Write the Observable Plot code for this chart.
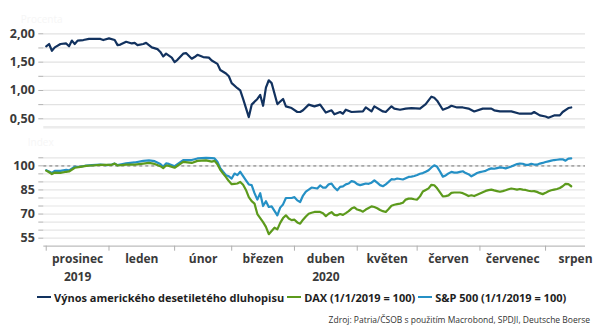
<!DOCTYPE html>
<html><head><meta charset="utf-8">
<script src="https://cdn.jsdelivr.net/npm/d3@7"></script>
<script src="https://cdn.jsdelivr.net/npm/@observablehq/plot@0.6"></script>
<style>
html,body{margin:0;padding:0;background:#fff;}
#wrap{position:relative;width:600px;height:335px;overflow:hidden;font-family:"Open Sans",sans-serif;}
#top{position:absolute;left:0;top:0;}
#bottom{position:absolute;left:0;top:130px;}
#wrap svg{display:block;font-family:"Open Sans",sans-serif;}
#legend{position:absolute;left:37px;top:289px;height:16px;display:flex;align-items:center;font-size:11px;font-weight:700;color:#1e1e1e;white-space:nowrap;}
#legend .it{display:flex;align-items:center;margin-right:3px;}
#legend .sw{display:inline-block;width:14px;height:2.5px;margin-right:3px;}
#source{position:absolute;right:10px;top:313.5px;font-size:8.5px;color:#333;white-space:nowrap;}
</style></head><body>
<div id="wrap"><div id="top"></div><div id="bottom"></div><div id="legend"></div><div id="source"></div></div>
<script>
// x = trading-day index (0 = 2 Dec 2019)
const months = ["prosinec","leden","únor","březen","duben","květen","červen","červenec","srpen"];
const monthStart = [0,22,45,65,87,109,130,152,175];
const monthMid = [11,33.5,55,76,98,119.5,141,163.5,185.5];
const years = ["2019","2020"];
const yearPos = [11,98];
const yTicksTop = [0.5,0.75,1.0,1.25,1.5,1.75,2.0];
const yLabelsTop = [0.5,1.0,1.5,2.0];
const yTicksBottom = [55,60,65,70,75,80,85,90,95,100,105];
const yLabelsBottom = [55,70,85,100];

const seriesNames = ["Výnos amerického desetiletého dluhopisu","DAX (1/1/2019 = 100)","S&P 500 (1/1/2019 = 100)"];
const seriesColors = ["#12325f","#5c9a1c","#2590c5"];

const yieldDay = [0,1,2,3,5,7,8,9,10,11,13,15,19,20,22,24,25,26,28,30,31,32,34,35,37,39,40,41,42,44,45,46,48,49,51,52,53,55,57,58,60,61,63,64,65,67,68,69,71,72,74,75,76,77,78,79,81,83,84,86,88,89,90,92,94,96,98,100,101,103,104,105,107,111,112,114,115,118,119,121,122,124,126,128,131,133,135,136,137,139,141,142,144,146,148,150,153,156,157,159,163,166,170,171,173,175,176,178,180,181,183,184];
const yieldVal = [1.78,1.82,1.70,1.76,1.82,1.83,1.78,1.88,1.82,1.88,1.89,1.91,1.91,1.89,1.92,1.89,1.80,1.81,1.86,1.83,1.84,1.80,1.82,1.84,1.76,1.73,1.68,1.60,1.65,1.58,1.50,1.54,1.65,1.66,1.56,1.59,1.63,1.59,1.58,1.53,1.47,1.36,1.30,1.25,1.13,1.04,1.00,0.85,0.53,0.75,0.85,0.92,0.73,1.05,1.18,1.13,0.76,0.85,0.72,0.69,0.62,0.62,0.65,0.75,0.72,0.75,0.61,0.65,0.58,0.62,0.59,0.66,0.62,0.63,0.70,0.63,0.72,0.63,0.62,0.72,0.68,0.66,0.68,0.69,0.68,0.76,0.89,0.87,0.82,0.66,0.70,0.73,0.70,0.70,0.68,0.63,0.68,0.68,0.65,0.63,0.63,0.59,0.59,0.62,0.56,0.54,0.52,0.56,0.56,0.62,0.69,0.70];

const stockDay = [0,1,2,3,5,7,8,10,12,14,16,19,21,23,24,25,28,31,34,36,38,40,41,42,43,45,48,51,53,56,58,59,60,61,62,63,64,65,66,67,68].concat(d3.range(69,185));
const spVal = [97.3,96.5,95.6,96.9,96.9,97.5,97.2,99.4,99.4,100.2,100.4,100.8,100.4,100.8,101.4,100.4,101.5,102.1,103.1,103.4,102.9,101.2,99.4,101.5,101.2,99.8,103.6,103.6,104.6,105.0,104.8,104.6,102.6,98.5,96.3,94.2,93.5,92.1,95.2,94.2,96.3,
93.6,91,88.4,88,83,79,83,75,78,74.4,74.8,72,69.2,74,76,80,80,80,80.5,78.5,77.5,81.5,84,85.2,86.5,86.2,85.9,87.8,86.5,86.5,88.5,89,86.5,84.8,86.9,87.2,88.5,89,90.5,90,88.6,88,88.5,89,88.8,89.5,91,89.5,88,87.3,88.5,90,91.7,91.5,92.1,91.8,91.5,92.3,93.1,93.3,93.7,94.3,95.1,95.5,96.3,97.3,99,100.3,99.4,96.5,93.3,94,95.3,96.2,95.8,95.8,96.2,96.6,95.5,94.8,93.5,94.5,95.5,96.1,96.5,96.9,97.8,98.4,98.2,98.6,99,98.8,98.4,99,99.6,100.4,101.1,101.4,101.3,100.6,100.6,101.3,100.8,100.7,101.4,101.8,102.4,102.8,103.2,103.6,103.8,104,104.1,103.2,104.5,104.6];
const daxVal = [97.0,96,94.9,95.8,95.6,96.3,96.5,98.8,99.4,100,100.2,100.6,100.6,100.6,101.4,100.2,100.8,100.8,101.4,101.8,101.2,99.8,98.6,100.2,100.0,98.8,102.5,101.8,103.1,103.4,102.6,103.1,101,97.5,95.2,93,90.5,88.6,88.8,89,90,
88.2,85,80.5,78,76.5,70,67.5,65,62,57.5,59.5,61.5,60.5,64.5,67.5,69.2,67.2,66.2,66.5,64.8,64,66.5,68.5,70.2,70.8,71.3,71.3,71.3,70.5,68.7,70.2,71.2,69.5,69.2,70,69.5,70.6,71.8,73.4,74.2,72.8,72.3,71.5,72.8,73.8,74.8,74.4,73.6,72.5,71.8,71.3,73.2,75.2,75.8,76.2,76.5,77,79,79.6,79.6,79.2,79,81,84,85,86,88.2,87.9,86,83.5,81,81.2,81.6,83.2,83.4,83.4,83.4,83,82.2,81.2,81.7,81.2,82,82.8,83.6,84.4,84.9,85.2,84.7,84.3,83.9,84.3,84.8,85.4,85.9,85.6,85.2,85.6,85.2,85,84.5,84.2,84.3,83.8,83,82.4,83.2,84.2,84.8,85.2,85.6,86.2,87.3,88.8,88.6,87.3];

const yieldData = yieldDay.map((d,i)=>({d, v:yieldVal[i]}));
const stockData = stockDay.map((d,i)=>({d, sp:spVal[i], dax:daxVal[i]}));

const xDomain = [-0.85, 189];
const lab = "#3a3a3a";
const fmtTop = d => yLabelsTop.includes(d) ? d.toFixed(2).replace(".", ",") : "";
const fmtBottom = d => yLabelsBottom.includes(d) ? String(d) : "";

const topPlot = Plot.plot({
  width:600, height:130, marginLeft:43.3, marginRight:15, marginTop:33.3, marginBottom:3.2,
  x:{domain:xDomain, axis:null},
  y:{domain:[0.35,2.0], axis:null},
  marks:[
    Plot.gridY(yTicksTop, {stroke:"#e2e2e2", strokeOpacity:1, strokeWidth:1.2}),
    Plot.ruleY([0.35], {stroke:"#ececec", strokeWidth:2.5}),
    Plot.axisY(yTicksTop, {label:null, tickSize:5, tickPadding:4, tickFormat:fmtTop, stroke:"#b0b0b0", fill:lab, fontSize:12.5, fontWeight:"bold"}),
    Plot.text(["Procenta"], {frameAnchor:"top-left", dx:-23, dy:-18, fill:"#f6f6f6", fontSize:10}),
    Plot.line(yieldData, {x:"d", y:"v", stroke:seriesColors[0], strokeWidth:2.2, curve:"linear"})
  ]
});
document.getElementById("top").appendChild(topPlot);

const bottomPlot = Plot.plot({
  width:600, height:158, marginLeft:43.3, marginRight:15, marginTop:27.3, marginBottom:42.3,
  x:{domain:xDomain, axis:null},
  y:{domain:[50,105], axis:null},
  marks:[
    Plot.gridY(yTicksBottom, {stroke:"#e6e6e6", strokeOpacity:1, strokeWidth:1.2}),
    Plot.ruleY([100], {stroke:"#a8a8a8", strokeWidth:1.6, strokeDasharray:"3,3"}),
    Plot.axisY(yTicksBottom, {label:null, tickSize:5, tickPadding:4, tickFormat:fmtBottom, stroke:"#b0b0b0", fill:lab, fontSize:12.5, fontWeight:"bold"}),
    Plot.ruleY([50], {stroke:"#bdbdbd", strokeWidth:1.2}),
    Plot.axisX(monthStart, {label:null, tickSize:5, tickFormat:()=>"", stroke:"#b0b0b0"}),
    Plot.text(monthMid, {x:d=>d, frameAnchor:"bottom", dy:16.5, text:(d,i)=>months[i], fill:lab, fontSize:12, fontWeight:"bold"}),
    Plot.text(yearPos, {x:d=>d, frameAnchor:"bottom", dy:35, text:(d,i)=>years[i], fill:lab, fontSize:12, fontWeight:"bold"}),
    Plot.text(["Index"], {frameAnchor:"top-left", dx:-16, dy:-19, fill:"#f6f6f6", fontSize:10}),
    Plot.line(stockData, {x:"d", y:"sp", stroke:seriesColors[2], strokeWidth:2.2}),
    Plot.line(stockData, {x:"d", y:"dax", stroke:seriesColors[1], strokeWidth:2.2})
  ]
});
document.getElementById("bottom").appendChild(bottomPlot);

const legend = document.getElementById("legend");
seriesNames.forEach((n,i)=>{
  const it = document.createElement("span"); it.className="it";
  const sw = document.createElement("span"); sw.className="sw"; sw.style.background=seriesColors[i];
  it.appendChild(sw); it.appendChild(document.createTextNode(n));
  legend.appendChild(it);
});
document.getElementById("source").textContent = "Zdroj: Patria/ČSOB s použitím Macrobond, SPDJI, Deutsche Boerse";
</script>
</body></html>
